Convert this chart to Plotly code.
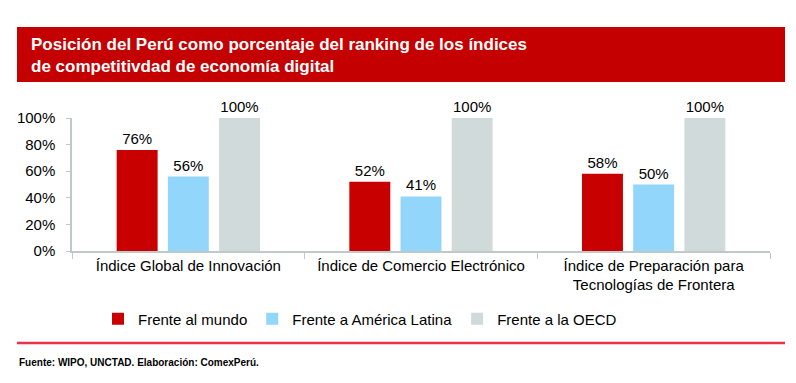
import plotly.graph_objects as go

categories = ["Índice Global de Innovación", "Índice de Comercio Electrónico",
              "Índice de Preparación para<br>Tecnologías de Frontera"]
series_names = ["Frente al mundo", "Frente a América Latina", "Frente a la OECD"]
mundo = [0.76, 0.52, 0.58]
latam = [0.56, 0.41, 0.50]
oecd = [1.00, 1.00, 1.00]
y_ticks = [0, 0.2, 0.4, 0.6, 0.8, 1.0]
y_tick_labels = ["0%", "20%", "40%", "60%", "80%", "100%"]

colors = ["#C80000", "#93D6FC", "#D1DADA"]
font = "Liberation Sans, Arial"

W, H = 796, 383
L, R, T, B = 72, 770, 118, 251
PW, PH = R - L, B - T


def px_x(x):
    return (x - L) / PW


def px_y(y):
    return (B - y) / PH


fig = go.Figure()
for name, vals, col in zip(series_names, [mundo, latam, oecd], colors):
    fig.add_trace(go.Bar(
        x=categories, y=vals, name=name, marker=dict(color=col, line=dict(width=0)),
        text=[f"{round(v*100)}%" for v in vals], textposition="outside",
        textfont=dict(family=font, size=15, color="#000000"),
        cliponaxis=False,
    ))

fig.update_layout(
    width=W, height=H,
    margin=dict(l=L, r=W - R, t=T, b=H - B, autoexpand=False),
    paper_bgcolor="white", plot_bgcolor="white",
    barmode="group", bargap=0.34, bargroupgap=0.2,
    showlegend=True,
    legend=dict(orientation="h", xref="container", yref="container",
                x=98 / W, y=1 - 319 / H, xanchor="left", yanchor="middle",
                bgcolor="rgba(0,0,0,0)",
                font=dict(family=font, size=15, color="#000000"),
                itemwidth=30, traceorder="normal"),
    xaxis=dict(showline=True, linecolor="#BFC9C9", linewidth=1.5,
               ticks="outside", tickson="boundaries", ticklen=6, tickcolor="#BFC9C9",
               tickfont=dict(family=font, size=15, color="#000000")),
    yaxis=dict(range=[0, 1], tickvals=y_ticks, ticktext=y_tick_labels,
               showline=True, linecolor="#BFC9C9", linewidth=1.5,
               ticks="outside", ticklen=4, tickcolor="#BFC9C9",
               ticklabelstandoff=8,
               showgrid=False, zeroline=False,
               tickfont=dict(family=font, size=15, color="#000000")),
)

fig.add_shape(type="rect", xref="paper", yref="paper",
              x0=px_x(17), x1=px_x(785), y0=px_y(27), y1=px_y(82),
              fillcolor="#C40000", line=dict(width=0), layer="below")
fig.add_shape(type="line", xref="paper", yref="paper",
              x0=px_x(17), x1=px_x(785), y0=px_y(343), y1=px_y(343),
              line=dict(color="#E8334A", width=2.5))

fig.add_annotation(text="Posición del Perú como porcentaje del ranking de los índices<br>de competitivdad de economía digital",
                   xref="paper", yref="paper", x=px_x(29), y=px_y(55),
                   xanchor="left", yanchor="middle", align="left", showarrow=False,
                   font=dict(family=font, size=17, color="white", weight="bold"))
fig.add_annotation(text="Fuente: WIPO, UNCTAD. Elaboración: ComexPerú.",
                   xref="paper", yref="paper", x=px_x(17), y=px_y(362),
                   xanchor="left", yanchor="middle", align="left", showarrow=False,
                   font=dict(family=font, size=10, color="black", weight="bold"))

fig.write_html("out.html", config={"displayModeBar": False},
               post_script="document.body.style.margin='0';document.body.style.overflow='hidden';")
